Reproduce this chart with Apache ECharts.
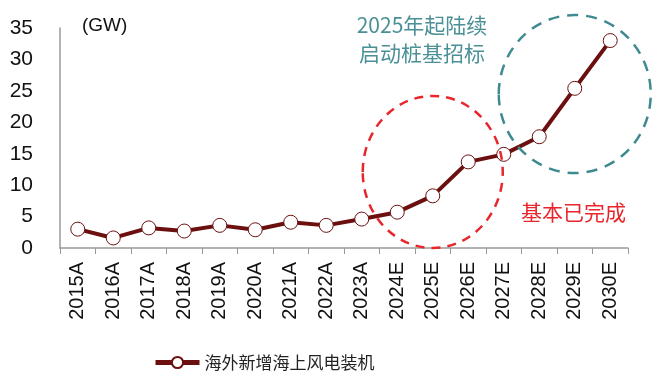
<!DOCTYPE html>
<html><head><meta charset="utf-8">
<script src="https://cdn.jsdelivr.net/npm/echarts@6/dist/echarts.min.js"></script>
<style>html,body{margin:0;padding:0;background:#fff}#c{width:660px;height:383px}</style>
</head><body><div id="c"></div>
<script>
var categories = ['2015A','2016A','2017A','2018A','2019A','2020A','2021A','2022A','2023A','2024E','2025E','2026E','2027E','2028E','2029E','2030E'];
var values = [3.0,1.6,3.2,2.7,3.6,2.9,4.1,3.6,4.6,5.7,8.3,13.7,14.9,17.7,25.4,33.0];
var seriesName = '海外新增海上风电装机';
var unitText = '(GW)';
var noteTeal = '2025年起陆续\n启动桩基招标';
var noteRed = '基本已完成';

var FONT = '"Liberation Sans", Arial, "Noto Sans CJK SC", sans-serif';
var CJK = '"Noto Sans CJK SC", sans-serif';
var chart = echarts.init(document.getElementById('c'));
chart.setOption({
  animation: false,
  textStyle: { fontFamily: FONT },
  grid: { left: 60, right: 32, top: 28, bottom: 135 },
  xAxis: {
    type: 'category', data: categories, boundaryGap: true,
    axisLine: { lineStyle: { color: '#999', width: 1.5 } },
    axisTick: { show: true, length: 6, lineStyle: { color: '#999' } },
    axisLabel: { rotate: 90, fontSize: 20, color: '#111', margin: 14, fontFamily: FONT, interval: 0 }
  },
  yAxis: {
    type: 'value', min: 0, max: 35, interval: 5,
    axisLine: { show: true, lineStyle: { color: '#999', width: 1.5 } },
    axisTick: { show: false },
    splitLine: { show: false },
    axisLabel: { fontSize: 21, color: '#111', margin: 27, fontFamily: FONT }
  },
  legend: {
    bottom: 7, left: 148, itemWidth: 44, itemHeight: 14, itemGap: 4,
    lineStyle: { width: 5 },
    textStyle: { fontSize: 17, color: '#222', fontFamily: CJK },
    data: [seriesName]
  },
  series: [{
    name: seriesName, type: 'line', data: values,
    lineStyle: { color: '#6b0f0f', width: 4 },
    itemStyle: { color: '#fff', borderColor: '#6b0f0f', borderWidth: 1 },
    symbol: 'circle', symbolSize: 14, showSymbol: true
  }]
});

function px(ci, v) { return chart.convertToPixel({ seriesIndex: 0 }, [ci, v]); }
var pRed = px(10.3, 12.1), pTeal = px(14.06, 24.5);
chart.setOption({
  graphic: [
    { type: 'ellipse', z: 10, shape: { cx: pRed[0], cy: pRed[1], rx: 70, ry: 76 },
      style: { fill: 'none', stroke: '#e8262b', lineWidth: 2.5, lineDash: [9, 7] } },
    { type: 'ellipse', z: 10, shape: { cx: pTeal[0], cy: pTeal[1], rx: 76, ry: 79 },
      style: { fill: 'none', stroke: '#3f8a91', lineWidth: 2.5, lineDash: [11, 8] } },
    { type: 'text', left: 82, top: 16, style: { text: unitText, fontSize: 19, fill: '#111', fontFamily: FONT } },
    { type: 'text', x: 422, y: 39, style: { text: noteTeal, fontSize: 21, lineHeight: 28, fill: '#4a9096', align: 'center', verticalAlign: 'middle', fontFamily: CJK } },
    { type: 'text', x: 521, y: 212, style: { text: noteRed, fontSize: 21, fill: '#e8262b', align: 'left', verticalAlign: 'middle', fontFamily: CJK } }
  ]
});
</script></body></html>
